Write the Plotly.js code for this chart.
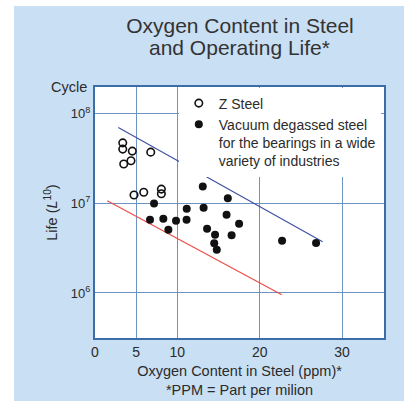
<!DOCTYPE html>
<html><head><meta charset="utf-8">
<script src="https://cdn.plot.ly/plotly-3.0.1.min.js"></script>
<style>
html,body{margin:0;padding:0;background:#fff;}
#panel{position:absolute;left:14px;top:6px;width:390px;height:395px;background:#c9dff3;}
#chart{position:absolute;left:0;top:0;width:404px;height:401px;}
</style></head>
<body><div id="panel"></div><div id="chart"></div>
<script>
// Z Steel (open circles)
const zSteelOxygen = [3.37, 3.37, 4.53, 6.77, 4.37, 3.49, 4.74, 5.92, 8.06, 8.06];
const zSteelLife   = [4.72e7, 4.02e7, 3.82e7, 3.72e7, 2.98e7, 2.74e7, 1.24e7, 1.33e7, 1.44e7, 1.28e7];
// Vacuum degassed steel (filled circles)
const vacuumOxygen = [7.17, 6.68, 8.30, 8.91, 9.84, 11.12, 11.14, 13.09, 13.19, 13.61, 14.58, 14.48, 14.79, 16.13, 15.98, 17.50, 16.59, 22.72, 26.85];
const vacuumLife   = [9.95e6, 6.55e6, 6.72e6, 5.07e6, 6.38e6, 6.55e6, 8.69e6, 1.54e7, 8.91e6, 5.20e6, 4.45e6, 3.58e6, 3.04e6, 1.14e7, 7.45e6, 5.91e6, 4.40e6, 3.82e6, 3.60e6];
// Trend lines
const upperLineOxygen = [2.83, 27.64];
const upperLineLife   = [7.0e7, 3.72e6];
const lowerLineOxygen = [1.49, 22.68];
const lowerLineLife   = [1.07e7, 9.55e5];
// Ticks
const xTickVals = [0, 5, 10, 20, 30];
const xTickText = ['0', '5', '10', '20', '30'];
const yTickVals = [1e6, 1e7, 1e8];
const yTickText = ['10<sup>6</sup>', '10<sup>7</sup>', '10<sup>8</sup>'];
const seriesNames = ['Z Steel', 'Vacuum degassed steel<br>for the bearings in a wide<br>variety of industries'];

const FONT = '"Liberation Sans", Arial, Helvetica, sans-serif';
const TXT = '#2b2b2b';
const GRID = '#6f93c0';
const BORDER = '#3b6ea8';

const traces = [
  {x: upperLineOxygen, y: upperLineLife, mode: 'lines', line: {color: '#3d4fa3', width: 1.1}, showlegend: false, hoverinfo: 'skip'},
  {x: lowerLineOxygen, y: lowerLineLife, mode: 'lines', line: {color: '#ee4a44', width: 1.1}, showlegend: false, hoverinfo: 'skip'},
  {x: zSteelOxygen, y: zSteelLife, mode: 'markers', name: seriesNames[0],
   marker: {symbol: 'circle-open', size: 7.5, color: '#111', line: {width: 1.6, color: '#111'}}},
  {x: vacuumOxygen, y: vacuumLife, mode: 'markers', name: seriesNames[1],
   marker: {symbol: 'circle', size: 8, color: '#111'}}
];

const layout = {
  width: 404, height: 401,
  margin: {l: 95, r: 20, t: 87, b: 63},
  paper_bgcolor: 'rgba(0,0,0,0)',
  plot_bgcolor: '#ffffff',
  font: {family: FONT, color: TXT, size: 14.5},
  title: {text: 'Oxygen Content in Steel', font: {size: 21, color: '#333'},
          x: 0.594, xref: 'container', xanchor: 'center', y: 0.937, yref: 'container', yanchor: 'middle'},
  xaxis: {range: [0, 35.1], tickvals: xTickVals, ticktext: xTickText, ticks: '',
          showgrid: true, gridcolor: GRID, gridwidth: 1, zeroline: false,
          showline: true, linecolor: BORDER, linewidth: 2, mirror: true,
          tickfont: {size: 14, color: TXT},
          title: {text: 'Oxygen Content in Steel (ppm)*<br>*PPM = Part per milion', font: {size: 14.5, color: TXT}, standoff: 7}},
  yaxis: {type: 'log', range: [5.498, 8.297], tickvals: yTickVals, ticktext: yTickText, ticks: '',
          showgrid: true, gridcolor: GRID, gridwidth: 1, zeroline: false,
          showline: true, linecolor: BORDER, linewidth: 2, mirror: true,
          tickfont: {size: 13, color: TXT},
          title: {text: 'Life (<i>L</i><sup>10</sup>)', font: {size: 14.5, color: TXT}, standoff: 10}},
  legend: {x: 0.29, y: 0.998, xanchor: 'left', yanchor: 'top', bgcolor: '#ffffff', borderwidth: 0,
           valign: 'top', font: {size: 14, color: TXT}, tracegroupgap: 0},
  annotations: [
    {text: 'and Operating Life*', xref: 'paper', yref: 'paper', x: 0.5, y: 1, yshift: 40, showarrow: false,
     xanchor: 'center', yanchor: 'middle', font: {size: 21, color: '#333'}},
    {text: 'Cycle', xref: 'paper', yref: 'paper', x: 0, y: 1, xshift: -6, showarrow: false,
     xanchor: 'right', yanchor: 'middle', font: {size: 14.5, color: TXT}}
  ],
  showlegend: true
};

Plotly.newPlot('chart', traces, layout, {displayModeBar: false, staticPlot: true});
</script>
</body></html>
